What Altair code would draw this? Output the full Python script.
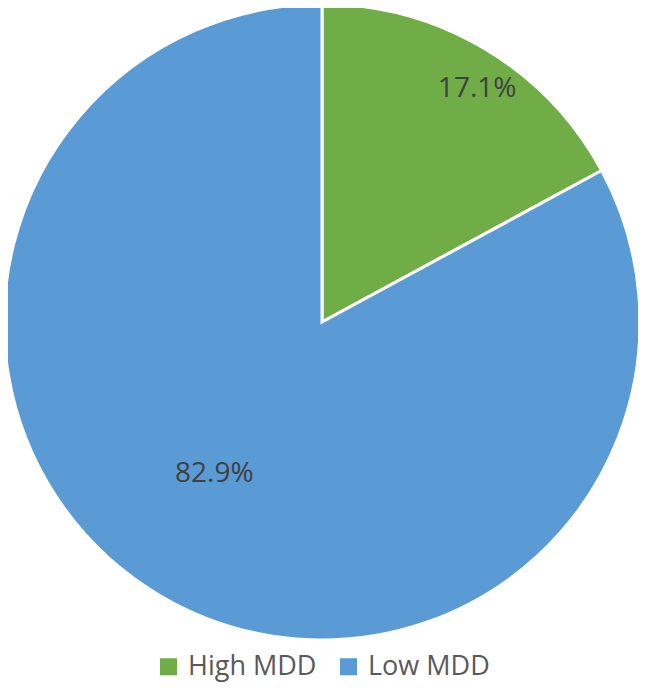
import altair as alt
import pandas as pd

categories = ["High MDD", "Low MDD"]
values = [17.1, 82.9]
labels = ["17.1%", "82.9%"]
colors = ["#70AD47", "#5B9BD5"]

df = pd.DataFrame({"cat": categories, "val": values, "lab": labels, "ord": [0, 1]})

base = alt.Chart(df).encode(
    theta=alt.Theta("val:Q", stack=True),
    order=alt.Order("ord:Q"),
)

arcs = base.mark_arc(radius=318, stroke="white", strokeWidth=3).encode(
    x=alt.value(314),
    y=alt.value(314),
    color=alt.Color(
        "cat:N",
        scale=alt.Scale(domain=categories, range=colors),
        sort=categories,
        legend=alt.Legend(
            title=None,
            orient="none",
            direction="horizontal",
            legendX=147,
            legendY=645,
            symbolType="square",
            symbolSize=290,
            symbolStrokeWidth=0,
            labelFontSize=27,
            labelFont="Open Sans",
            labelColor="#595959",
            labelOffset=6,
            columnPadding=18,
        ),
    ),
)

text_hi = base.mark_text(radius=280, thetaOffset=0.05, fontSize=28, font="Open Sans", color="#404040").transform_calculate(
    t="datum.cat == 'High MDD' ? datum.lab : ''"
).encode(x=alt.value(314), y=alt.value(314), text="t:N")

text_lo = base.mark_text(radius=186, thetaOffset=0.08, fontSize=28, font="Open Sans", color="#404040").transform_calculate(
    t="datum.cat == 'Low MDD' ? datum.lab : ''"
).encode(x=alt.value(314), y=alt.value(314), text="t:N")

chart = alt.layer(arcs, text_hi, text_lo).properties(
    width=630, height=674, padding=0, autosize=alt.AutoSizeParams(type="none")
).configure_view(stroke=None)

chart.save("out.html", embed_options={"renderer": "svg", "actions": False})
